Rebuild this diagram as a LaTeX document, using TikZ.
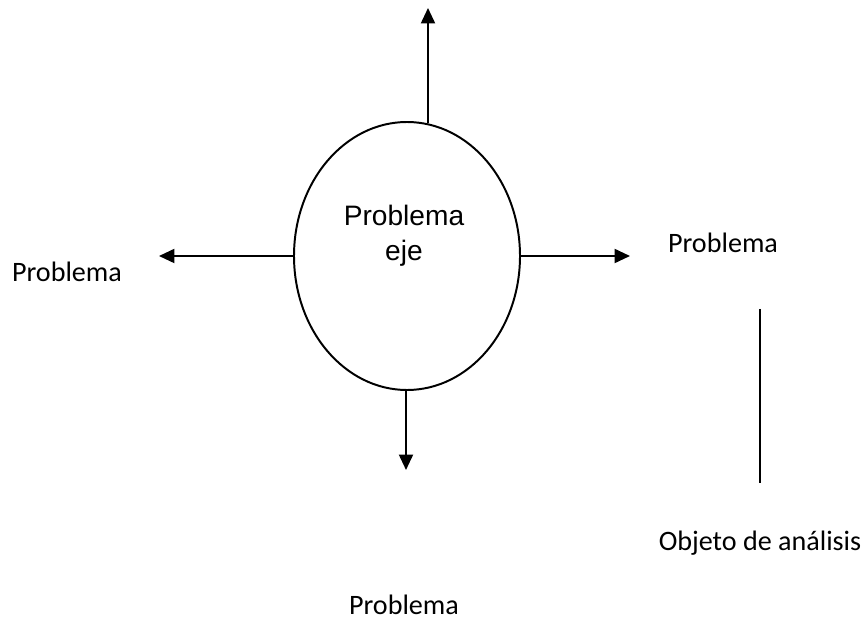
\documentclass[tikz,border=0pt]{standalone}
\usepackage{fontspec}
\setmainfont{Carlito}
\newfontfamily\arialfont{Liberation Sans}
\usepackage{tikz}
\usetikzlibrary{arrows.meta,shapes.geometric,positioning}

\tikzset{
  flecha/.style = {line width=1.4pt, -{Triangle[length=11pt, width=10pt]}},
  etiqueta/.style = {font=\fontsize{20}{24}\selectfont, inner sep=0pt, anchor=base},
}

\begin{document}
\begin{tikzpicture}
    \useasboundingbox (0, 0) rectangle (21.7, 15.55);

    \node [ellipse, draw, line width=1.4pt, minimum width=5.65cm, minimum height=6.7cm] (eje) at (10.175, 9.15) {};
    \node [font=\arialfont\fontsize{20}{25}\selectfont, align=center, inner sep=0pt, anchor=north] (ejetxt) at (10.1, 10.425) {Problema\\eje};

    \coordinate (arriba) at (10.7, 15.35);
    \coordinate (abajo) at (10.15, 3.8);
    \coordinate (izq) at (3.975, 9.15);
    \coordinate (der) at (15.75, 9.15);

    \draw [flecha] (arriba |- eje.81) -- (arriba);
    \draw [flecha] (abajo |- eje.south) -- (abajo);
    \draw [flecha] (eje.west) -- (izq);
    \draw [flecha] (eje.east) -- (der);

    \node [etiqueta] (probizq) at (1.675, 8.5) {Problema};
    \node [etiqueta] (probder) at (18.075, 9.225) {Problema};
    \node [etiqueta] (probabajo) at (10.1, 0.2) {Problema};
    \node [etiqueta] (objeto) at (19.0, 1.8) {Objeto de análisis};

    \coordinate (linea1) at (19.0, 7.825);
    \coordinate (linea2) at (19.0, 3.475);
    \draw [line width=0.9pt] (linea1) -- (linea2);
  \end{tikzpicture}
\end{document}
